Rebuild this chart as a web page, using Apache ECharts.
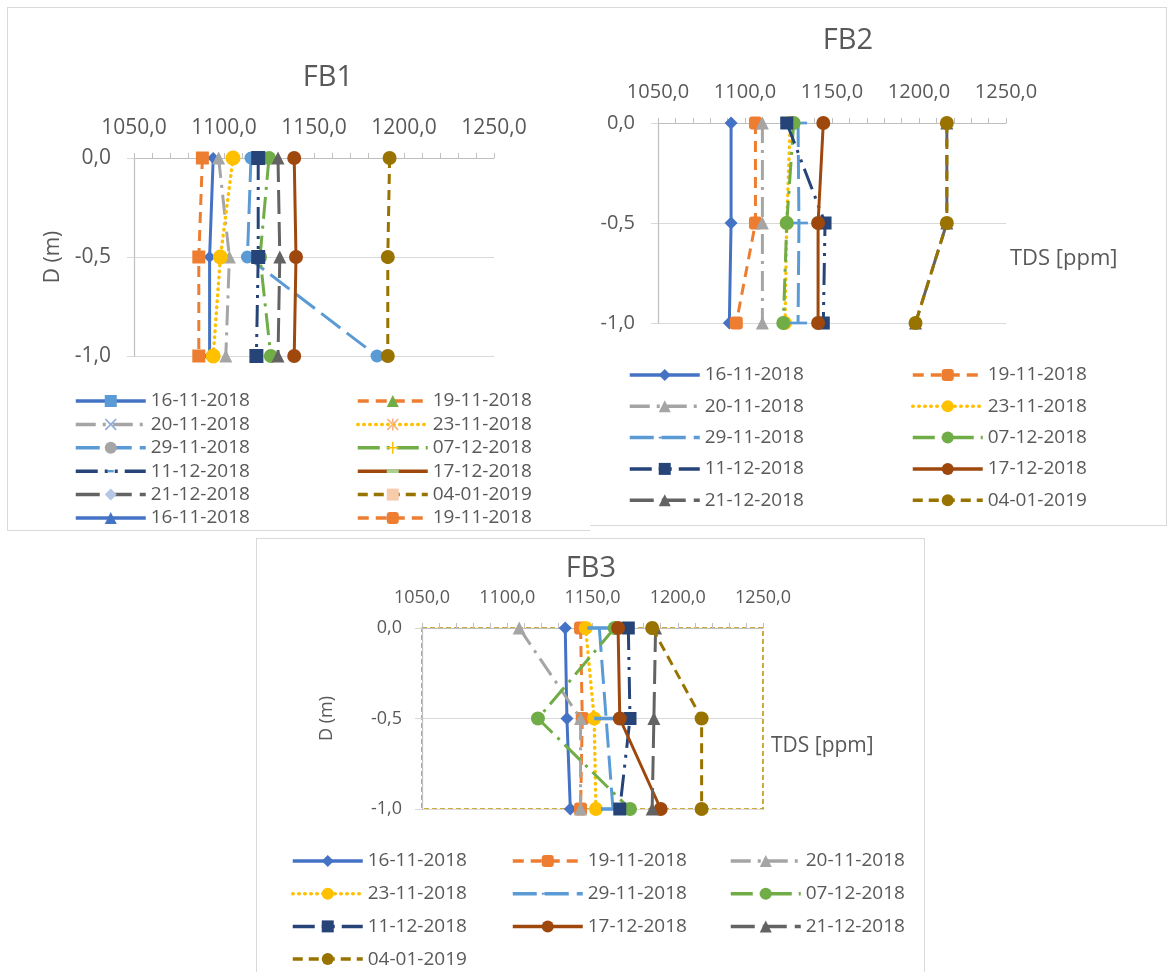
<!DOCTYPE html>
<html>
<head>
<meta charset="utf-8">
<script src="https://cdn.jsdelivr.net/npm/echarts@6.0.0/dist/echarts.min.js"></script>
<style>
  body { margin: 0; background: #fff; width: 1167px; height: 972px; position: relative; overflow: hidden; }
  .panel { position: absolute; background: #fff; border: 1px solid #d9d9d9; box-sizing: border-box; }
</style>
</head>
<body>
<div id="fb2" class="panel" style="left:588px;top:7px;width:579px;height:519px;border-left:none"></div>
<div id="fb1" class="panel" style="left:7px;top:7px;width:583px;height:524px;border-right:none"></div>
<div id="fb3" class="panel" style="left:256px;top:538px;width:669px;height:440px"></div>
<script>
// depth of each reading (m)
const depths = [0, -0.5, -1];
const dates = ['16-11-2018', '19-11-2018', '20-11-2018', '23-11-2018', '29-11-2018',
  '07-12-2018', '11-12-2018', '17-12-2018', '21-12-2018', '04-01-2019'];
const tdsMin = 1050, tdsMax = 1250, tdsStep = 50;

// TDS [ppm] at 0,0 / -0,5 / -1,0 for each date
const fb1Values = [
  [1094, 1092, 1092],
  [1088, 1086, 1086],
  [1097, 1103, 1101],
  [1105, 1098, 1094],
  [1115, 1113, 1185],
  [1125, 1120, 1126],
  [1119, 1119, 1118],
  [1139, 1140, 1139],
  [1130, 1131, 1130],
  [1192, 1191, 1191]
];
const fb2Values = [
  [1092, 1092, 1091],
  [1106, 1106, 1095],
  [1110, 1110, 1110],
  [1126, 1124, 1123],
  [1130.5, 1131, 1130.5],
  [1128, 1124, 1122],
  [1124, 1146, 1145],
  [1145, 1142, 1142],
  [1216, 1216, 1198],
  [1216, 1216, 1198]
];
const fb3Values = [
  [1134, 1135, 1137],
  [1143, 1144, 1143],
  [1107, 1143, 1143],
  [1146, 1151, 1152],
  [1154, 1158, 1162],
  [1163, 1118, 1172],
  [1171, 1172, 1166],
  [1165, 1166, 1190],
  [1187, 1186, 1185],
  [1185, 1214, 1214]
];
// FB1 legend lists the first two dates again at the end
const fb1LegendNames = dates.concat(['16-11-2018 ', '19-11-2018 ']);

const FONT = '"Open Sans", "Noto Sans", sans-serif';
const TEXT = '#595959';
const AXIS = '#bfbfbf';
const GRID = '#d9d9d9';

const DASH = 'path://M0,0M20,20M0,8.5L20,8.5L20,11.5L0,11.5Z';
const SMALLBAR = 'path://M0,0M20,20M5,8L15,8L15,12L5,12Z';
const BAR = 'path://M0,0M20,20M0,7L20,7L20,13L0,13Z';
const CROSS = 'path://M1,0L5,4L9,0L10,1L6,5L10,9L9,10L5,6L1,10L0,9L4,5L0,1Z';
const STAR = 'path://M1,0L5,4L9,0L10,1L6,5L10,9L9,10L5,6L1,10L0,9L4,5L0,1Z M4.4,0L4.4,10L5.6,10L5.6,0Z';
const PLUS = 'path://M4.4,0L5.6,0L5.6,4.4L10,4.4L10,5.6L5.6,5.6L5.6,10L4.4,10L4.4,5.6L0,5.6L0,4.4L4.4,4.4Z';

const lineStyles = [
  { color: '#4472C4', type: 'solid' },
  { color: '#ED7D31', type: [11, 7] },
  { color: '#A5A5A5', type: [20, 7, 3, 7] },
  { color: '#FFC000', type: [0.5, 5.5], cap: 'round', width: 3.5 },
  { color: '#5B9BD5', type: [24, 8] },
  { color: '#70AD47', type: [22, 7, 3, 7] },
  { color: '#264478', type: [22, 7, 3, 7, 3, 7] },
  { color: '#9E480E', type: 'solid' },
  { color: '#636363', type: [24, 8] },
  { color: '#997300', type: [10, 6] }
];

function fmt(v) { return v.toFixed(1).replace('.', ','); }

function plotSeries(values, symbols, sizes, prefix) {
  return values.map((row, i) => ({
    name: prefix + dates[i],
    type: 'line',
    data: row.map((v, k) => [v, depths[k]]),
    symbol: symbols[i],
    symbolSize: sizes[i],
    lineStyle: Object.assign({ width: 3 }, lineStyles[i]),
    itemStyle: { color: lineStyles[i].color },
    z: 2 + i,
    silent: true
  }));
}

function legendColumn(names, left, top, gap) {
  return {
    orient: 'vertical',
    left: left,
    top: top,
    padding: 0,
    itemWidth: 70,
    itemHeight: 15,
    itemGap: gap,
    selectedMode: false,
    lineStyle: { width: 3.5 },
    data: names,
    textStyle: { fontFamily: FONT, fontSize: 19, color: TEXT, lineHeight: 20 }
  };
}

function baseOption(p) {
  return {
    animation: false,
    textStyle: { fontFamily: FONT },
    grid: Object.assign({
      left: p.grid[0], top: p.grid[1], width: p.grid[2], height: p.grid[3],
      containLabel: false
    }, p.border || {}),
    xAxis: {
      type: 'value',
      position: 'top',
      min: tdsMin, max: tdsMax, interval: tdsStep,
      axisLine: { onZero: false, lineStyle: { color: AXIS, width: 1.2 } },
      axisTick: { show: true, inside: false, length: 5, lineStyle: { color: AXIS } },
      minorTick: { show: true, splitNumber: 5, length: 5, lineStyle: { color: AXIS } },
      splitLine: { show: false },
      axisLabel: { fontFamily: FONT, fontSize: p.tickFont, color: TEXT, margin: p.xMargin, formatter: fmt }
    },
    yAxis: {
      type: 'value',
      min: -1, max: 0, interval: 0.5,
      name: p.yName || '',
      nameLocation: 'middle',
      nameRotate: 90,
      nameGap: p.yNameGap || 0,
      nameTextStyle: { fontFamily: FONT, fontSize: p.tickFont, color: TEXT },
      axisLine: { onZero: false, lineStyle: { color: AXIS, width: 1.2 } },
      axisTick: { show: true, inside: false, length: 7, lineStyle: { color: GRID } },
      splitLine: { show: true, lineStyle: { color: GRID, width: 1.2 } },
      axisLabel: { fontFamily: FONT, fontSize: p.tickFont, color: TEXT, margin: p.yMargin, formatter: fmt }
    },
    graphic: p.texts.map(t => ({
      type: 'text', x: t[1], y: t[2], silent: true,
      style: {
        text: t[0], fill: TEXT, fontFamily: FONT, fontSize: t[3],
        align: t[4] || 'left', verticalAlign: 'middle',
        textAlign: t[4] || 'left', textVerticalAlign: 'middle'
      }
    })),
    legend: p.legend,
    series: p.series
  };
}

// ---------- FB1 ----------
const fb1Symbols = ['diamond', 'rect', 'triangle', 'circle', 'circle', 'circle', 'rect', 'circle', 'triangle', 'circle'];
const fb1Sizes = [12, 13, 13, 15, 13, 14, 14, 14, 13, 14];
const fb1Markers = [
  ['rect', '#5B9BD5'], ['triangle', '#70AD47'], [CROSS, '#8FAADC'], [STAR, '#F4B183'],
  ['circle', '#A5A5A5'], [PLUS, '#FFC000'], [SMALLBAR, '#5B9BD5'], [BAR, '#A9D18E'],
  ['diamond', '#B4C7E7'], ['rect', '#F8CBAD'], ['triangle', '#4472C4'], ['roundRect', '#ED7D31']
];
const fb1LegendSeries = fb1LegendNames.map((n, j) => {
  const ls = lineStyles[j % 10];
  return {
    name: n, type: 'line', data: [],
    symbol: fb1Markers[j][0],
    lineStyle: Object.assign({ width: 3 }, ls),
    itemStyle: { color: fb1Markers[j][1] }
  };
});
const fb1LegendData = fb1LegendNames.map((n, j) => ({
  name: n,
  itemStyle: { color: fb1Markers[j][1] },
  lineStyle: { color: lineStyles[j % 10].color, width: 3.5 }
}));

const fb1 = echarts.init(document.getElementById('fb1'));
fb1.setOption(baseOption({
  grid: [126, 150, 360, 198],
  tickFont: 21, xMargin: 19, yMargin: 23,
  yName: 'D (m)', yNameGap: 68,
  texts: [['FB1', 320, 70, 29, 'center']],
  legend: [
    legendColumn(fb1LegendData.filter((d, j) => j % 2 === 0), 66, 383, 3.4),
    legendColumn(fb1LegendData.filter((d, j) => j % 2 === 1), 348, 383, 3.4)
  ],
  series: plotSeries(fb1Values, fb1Symbols, fb1Sizes, 'FB1 ').concat(fb1LegendSeries)
}));

// ---------- FB2 ----------
const fb2Symbols = ['diamond', 'roundRect', 'triangle', 'circle', DASH, 'circle', 'rect', 'circle', 'triangle', 'circle'];
const fb2Sizes = [13, 13, 13, 14, 18, 14, 13, 14, 13, 14];
const fb2 = echarts.init(document.getElementById('fb2'));
fb2.setOption(baseOption({
  grid: [70, 115, 348, 200],
  tickFont: 20, xMargin: 21, yMargin: 23,
  texts: [['FB2', 260, 33, 29, 'center'], ['TDS [ppm]', 422, 251, 22]],
  legend: [
    legendColumn(dates.filter((d, j) => j % 2 === 0), 40, 357, 11.3),
    legendColumn(dates.filter((d, j) => j % 2 === 1), 323, 357, 11.3)
  ],
  series: plotSeries(fb2Values, fb2Symbols, fb2Sizes, '')
}));

// ---------- FB3 ----------
const fb3Sizes = [13, 13, 13, 14, 24, 14, 13, 14, 13, 14];
const fb3 = echarts.init(document.getElementById('fb3'));
fb3.setOption(baseOption({
  grid: [165, 89, 341, 181],
  border: { show: true, borderColor: '#bf9000', borderWidth: 1.5, borderType: [5, 3] },
  tickFont: 18, xMargin: 21, yMargin: 20,
  yName: 'D (m)', yNameGap: 86,
  texts: [['FB3', 334, 30, 29, 'center'], ['TDS [ppm]', 514, 207, 21]],
  legend: [
    legendColumn(dates.filter((d, j) => j % 3 === 0), 34, 312, 12.7),
    legendColumn(dates.filter((d, j) => j % 3 === 1), 254, 312, 12.7),
    legendColumn(dates.filter((d, j) => j % 3 === 2), 472, 312, 12.7)
  ],
  series: plotSeries(fb3Values, fb2Symbols, fb3Sizes, '')
}));
</script>
</body>
</html>
